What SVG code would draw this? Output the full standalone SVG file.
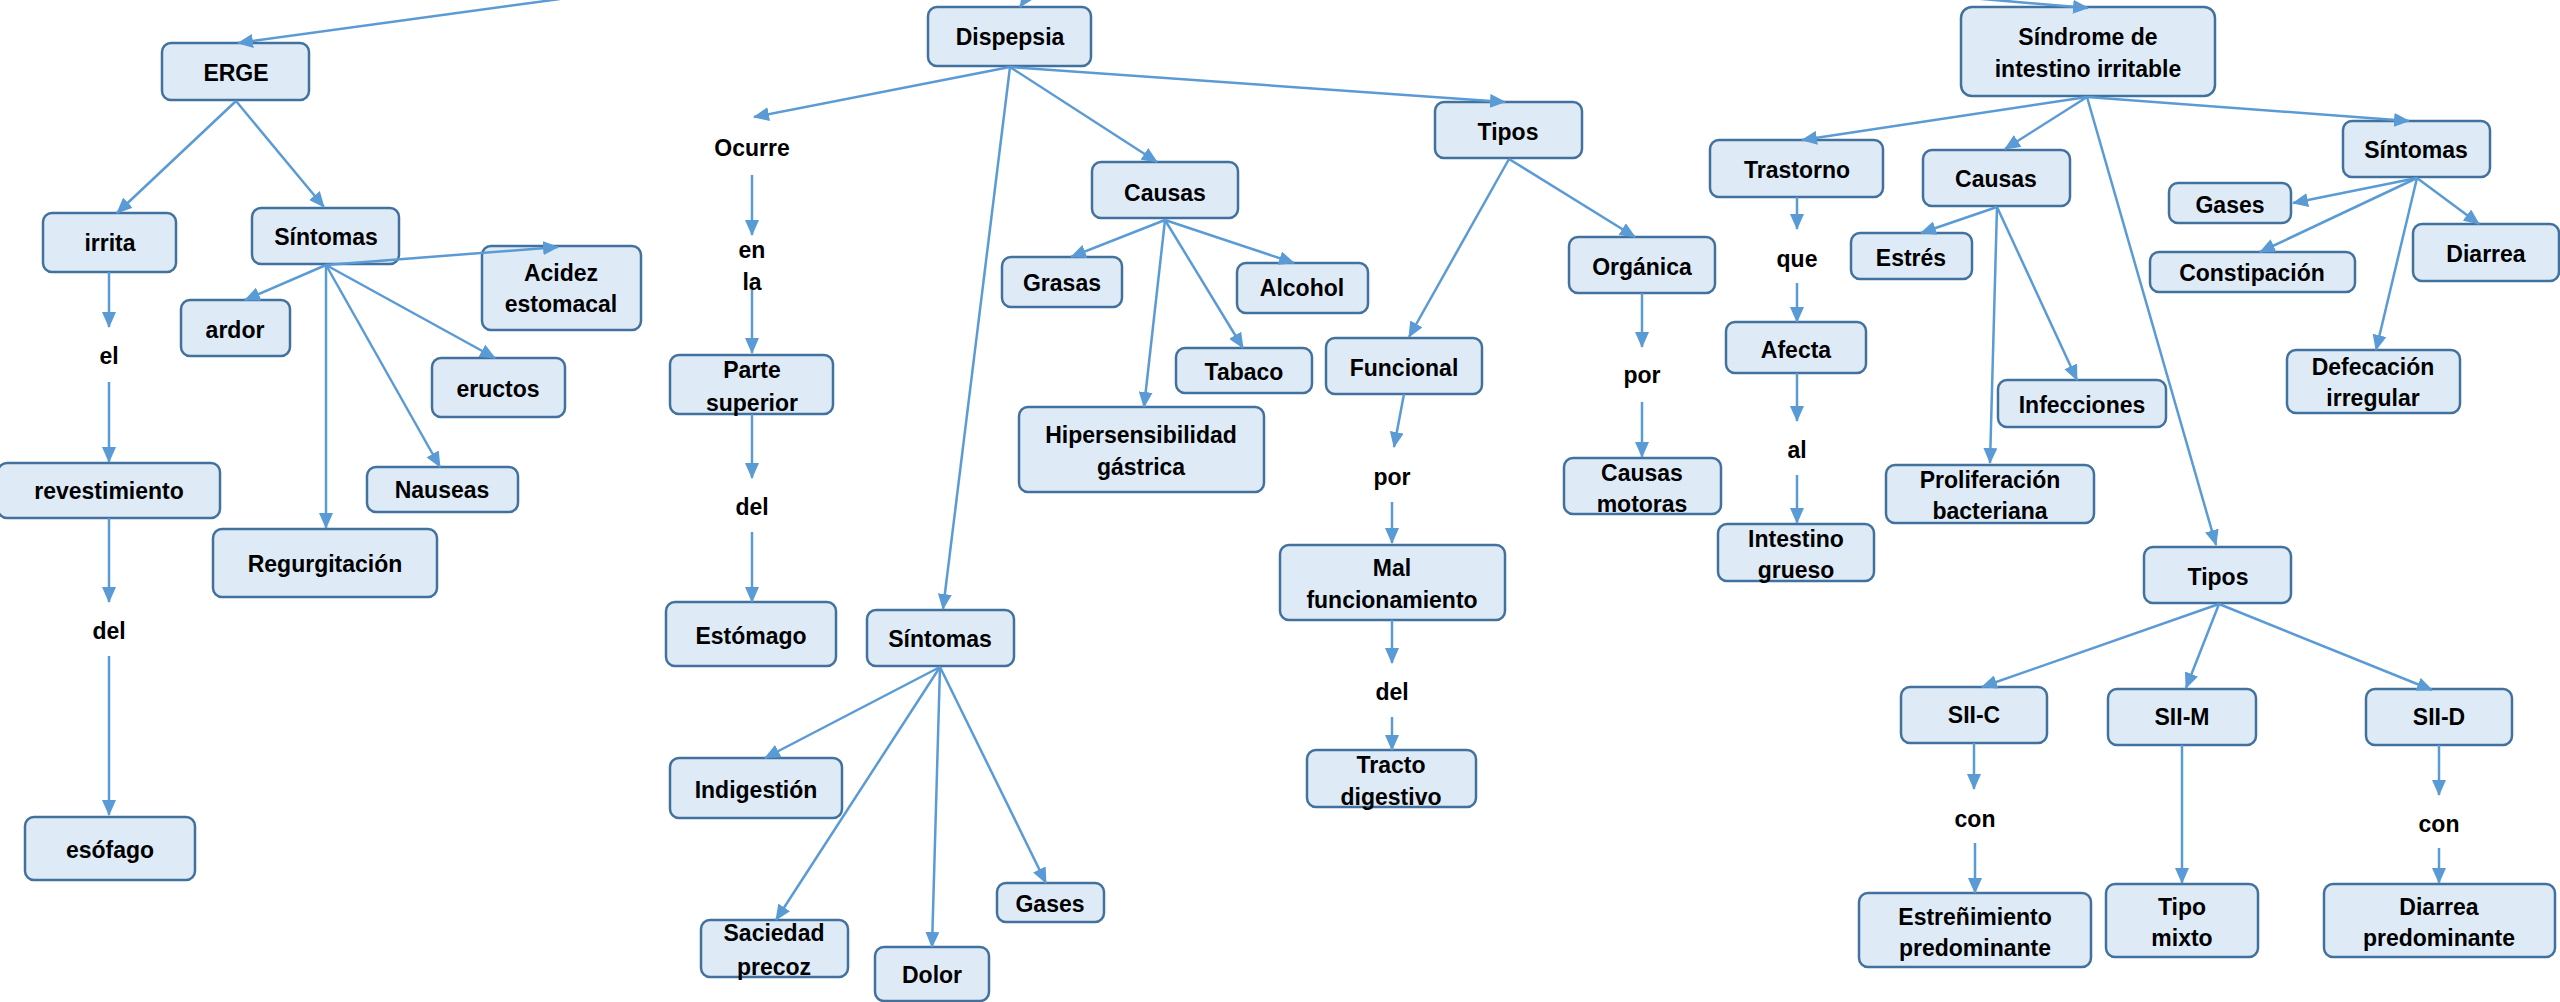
<svg xmlns="http://www.w3.org/2000/svg" width="2560" height="1002" viewBox="0 0 2560 1002">
<style>
.n rect{fill:#DEEBF7;stroke:#41719C;stroke-width:2.5}
text{font-family:"Liberation Sans",Arial,sans-serif;font-weight:bold;font-size:23px;fill:#000;text-anchor:middle}
.c line{stroke:#5B9BD5;stroke-width:2.5;marker-end:url(#ah)}
</style>
<defs>
<marker id="ah" markerUnits="userSpaceOnUse" markerWidth="16" markerHeight="14" viewBox="0 0 16 14" refX="15" refY="7" orient="auto">
<path d="M0,0 L16,7 L0,14 z" fill="#5B9BD5"/>
</marker>
</defs>
<rect width="2560" height="1002" fill="#fff"/>

<g id="erge" class="n"><rect x="162" y="43" width="147" height="57" rx="9"/><text x="236" y="81">ERGE</text></g>
<g id="irrita" class="n"><rect x="43" y="213" width="133" height="59" rx="9"/><text x="110" y="251">irrita</text></g>
<g id="sintomas1" class="n"><rect x="252" y="208" width="147" height="56" rx="9"/><text x="326" y="245">Síntomas</text></g>
<g id="acidez" class="n"><rect x="482" y="246" width="159" height="84" rx="9"/><text x="561" y="281">Acidez</text><text x="561" y="312">estomacal</text></g>
<g id="ardor" class="n"><rect x="181" y="300" width="109" height="56" rx="9"/><text x="235" y="338">ardor</text></g>
<g id="eructos" class="n"><rect x="432" y="358" width="133" height="59" rx="9"/><text x="498" y="397">eructos</text></g>
<g id="nauseas" class="n"><rect x="367" y="467" width="151" height="45" rx="9"/><text x="442" y="498">Nauseas</text></g>
<g id="revestimiento" class="n"><rect x="-2" y="463" width="222" height="55" rx="9"/><text x="109" y="499">revestimiento</text></g>
<g id="regurgitacion" class="n"><rect x="213" y="529" width="224" height="68" rx="9"/><text x="325" y="572">Regurgitación</text></g>
<g id="el"><text x="109" y="364">el</text></g>
<g id="del1"><text x="109" y="639">del</text></g>
<g id="esofago" class="n"><rect x="25" y="817" width="170" height="63" rx="9"/><text x="110" y="858">esófago</text></g>

<g id="dispepsia" class="n"><rect x="928" y="7" width="163" height="59" rx="9"/><text x="1010" y="45">Dispepsia</text></g>
<g id="ocurre"><text x="752" y="156">Ocurre</text></g>
<g id="en"><text x="752" y="258">en</text></g>
<g id="la"><text x="752" y="290">la</text></g>
<g id="parte" class="n"><rect x="670" y="355" width="163" height="59" rx="9"/><text x="752" y="378">Parte</text><text x="752" y="411">superior</text></g>
<g id="del2"><text x="752" y="515">del</text></g>
<g id="estomago" class="n"><rect x="666" y="602" width="170" height="64" rx="9"/><text x="751" y="644">Estómago</text></g>
<g id="sintomas2" class="n"><rect x="867" y="610" width="147" height="56" rx="9"/><text x="940" y="647">Síntomas</text></g>
<g id="indigestion" class="n"><rect x="670" y="758" width="172" height="60" rx="9"/><text x="756" y="798">Indigestión</text></g>
<g id="saciedad" class="n"><rect x="701" y="920" width="147" height="57" rx="9"/><text x="774" y="941">Saciedad</text><text x="774" y="975">precoz</text></g>
<g id="dolor" class="n"><rect x="875" y="947" width="114" height="54" rx="9"/><text x="932" y="983">Dolor</text></g>
<g id="gases1" class="n"><rect x="997" y="883" width="107" height="39" rx="9"/><text x="1050" y="912">Gases</text></g>
<g id="causas1" class="n"><rect x="1092" y="162" width="146" height="56" rx="9"/><text x="1165" y="201">Causas</text></g>
<g id="grasas" class="n"><rect x="1002" y="257" width="120" height="50" rx="9"/><text x="1062" y="291">Grasas</text></g>
<g id="alcohol" class="n"><rect x="1237" y="263" width="131" height="50" rx="9"/><text x="1302" y="296">Alcohol</text></g>
<g id="tabaco" class="n"><rect x="1176" y="348" width="136" height="45" rx="9"/><text x="1244" y="380">Tabaco</text></g>
<g id="hipersensibilidad" class="n"><rect x="1019" y="407" width="245" height="85" rx="9"/><text x="1141" y="443">Hipersensibilidad</text><text x="1141" y="475">gástrica</text></g>
<g id="tipos1" class="n"><rect x="1435" y="102" width="147" height="56" rx="9"/><text x="1508" y="140">Tipos</text></g>
<g id="funcional" class="n"><rect x="1326" y="338" width="156" height="56" rx="9"/><text x="1404" y="376">Funcional</text></g>
<g id="organica" class="n"><rect x="1569" y="237" width="146" height="56" rx="9"/><text x="1642" y="275">Orgánica</text></g>
<g id="por1"><text x="1392" y="485">por</text></g>
<g id="malfunc" class="n"><rect x="1280" y="545" width="225" height="75" rx="9"/><text x="1392" y="576">Mal</text><text x="1392" y="608">funcionamiento</text></g>
<g id="del3"><text x="1392" y="700">del</text></g>
<g id="tracto" class="n"><rect x="1307" y="750" width="169" height="57" rx="9"/><text x="1391" y="773">Tracto</text><text x="1391" y="805">digestivo</text></g>
<g id="por2"><text x="1642" y="383">por</text></g>
<g id="causasmot" class="n"><rect x="1564" y="458" width="157" height="56" rx="9"/><text x="1642" y="481">Causas</text><text x="1642" y="512">motoras</text></g>

<g id="trastorno" class="n"><rect x="1710" y="140" width="173" height="57" rx="9"/><text x="1797" y="178">Trastorno</text></g>
<g id="que"><text x="1797" y="267">que</text></g>
<g id="afecta" class="n"><rect x="1726" y="322" width="140" height="51" rx="9"/><text x="1796" y="358">Afecta</text></g>
<g id="al"><text x="1797" y="458">al</text></g>
<g id="intestino" class="n"><rect x="1718" y="524" width="156" height="57" rx="9"/><text x="1796" y="547">Intestino</text><text x="1796" y="578">grueso</text></g>
<g id="sii" class="n"><rect x="1961" y="7" width="254" height="89" rx="11"/><text x="2088" y="45">Síndrome de</text><text x="2088" y="77">intestino irritable</text></g>
<g id="causas2" class="n"><rect x="1923" y="150" width="147" height="56" rx="9"/><text x="1996" y="187">Causas</text></g>
<g id="estres" class="n"><rect x="1851" y="233" width="121" height="46" rx="9"/><text x="1911" y="266">Estrés</text></g>
<g id="infecciones" class="n"><rect x="1998" y="380" width="168" height="47" rx="9"/><text x="2082" y="413">Infecciones</text></g>
<g id="proliferacion" class="n"><rect x="1886" y="465" width="208" height="58" rx="9"/><text x="1990" y="488">Proliferación</text><text x="1990" y="519">bacteriana</text></g>
<g id="sintomas3" class="n"><rect x="2343" y="121" width="147" height="56" rx="9"/><text x="2416" y="158">Síntomas</text></g>
<g id="gases2" class="n"><rect x="2169" y="183" width="122" height="40" rx="9"/><text x="2230" y="213">Gases</text></g>
<g id="constipacion" class="n"><rect x="2150" y="252" width="205" height="40" rx="9"/><text x="2252" y="281">Constipación</text></g>
<g id="diarrea" class="n"><rect x="2413" y="224" width="146" height="57" rx="9"/><text x="2486" y="262">Diarrea</text></g>
<g id="defecacion" class="n"><rect x="2287" y="350" width="173" height="63" rx="9"/><text x="2373" y="375">Defecación</text><text x="2373" y="406">irregular</text></g>
<g id="tipos2" class="n"><rect x="2144" y="547" width="147" height="56" rx="9"/><text x="2218" y="585">Tipos</text></g>
<g id="siic" class="n"><rect x="1901" y="687" width="146" height="56" rx="9"/><text x="1974" y="723">SII-C</text></g>
<g id="siim" class="n"><rect x="2108" y="689" width="148" height="56" rx="9"/><text x="2182" y="725">SII-M</text></g>
<g id="siid" class="n"><rect x="2366" y="689" width="146" height="56" rx="9"/><text x="2439" y="725">SII-D</text></g>
<g id="con1"><text x="1975" y="827">con</text></g>
<g id="con2"><text x="2439" y="832">con</text></g>
<g id="estrenimiento" class="n"><rect x="1859" y="893" width="232" height="74" rx="9"/><text x="1975" y="925">Estreñimiento</text><text x="1975" y="956">predominante</text></g>
<g id="tipomixto" class="n"><rect x="2106" y="884" width="152" height="73" rx="9"/><text x="2182" y="915">Tipo</text><text x="2182" y="946">mixto</text></g>
<g id="diarreapred" class="n"><rect x="2324" y="884" width="231" height="73" rx="9"/><text x="2439" y="915">Diarrea</text><text x="2439" y="946">predominante</text></g>

<g id="connectors" class="c">
<line x1="560" y1="-1" x2="238" y2="43"/>
<line x1="236" y1="101" x2="117" y2="213"/>
<line x1="236" y1="101" x2="324" y2="207"/>
<line x1="326" y1="265" x2="558" y2="247"/>
<line x1="326" y1="265" x2="245" y2="300"/>
<line x1="326" y1="265" x2="495" y2="358"/>
<line x1="326" y1="265" x2="440" y2="467"/>
<line x1="326" y1="265" x2="326" y2="528"/>
<line x1="109" y1="272" x2="109" y2="327"/>
<line x1="109" y1="382" x2="109" y2="462"/>
<line x1="109" y1="518" x2="109" y2="602"/>
<line x1="109" y1="656" x2="109" y2="815"/>
<line x1="1045" y1="-30" x2="1020" y2="7"/>
<line x1="1010" y1="67" x2="754" y2="117"/>
<line x1="1010" y1="67" x2="943" y2="609"/>
<line x1="1010" y1="67" x2="1157" y2="162"/>
<line x1="1010" y1="67" x2="1505" y2="102"/>
<line x1="752" y1="175" x2="752" y2="235"/>
<line x1="752" y1="290" x2="752" y2="353"/>
<line x1="752" y1="414" x2="752" y2="478"/>
<line x1="752" y1="532" x2="752" y2="602"/>
<line x1="940" y1="667" x2="765" y2="758"/>
<line x1="940" y1="667" x2="776" y2="920"/>
<line x1="940" y1="667" x2="932" y2="947"/>
<line x1="940" y1="667" x2="1046" y2="883"/>
<line x1="1165" y1="220" x2="1071" y2="257"/>
<line x1="1165" y1="220" x2="1294" y2="263"/>
<line x1="1165" y1="220" x2="1243" y2="348"/>
<line x1="1165" y1="220" x2="1144" y2="407"/>
<line x1="1509" y1="159" x2="1409" y2="337"/>
<line x1="1509" y1="159" x2="1635" y2="237"/>
<line x1="1404" y1="394" x2="1394" y2="447"/>
<line x1="1392" y1="502" x2="1392" y2="543"/>
<line x1="1392" y1="620" x2="1392" y2="663"/>
<line x1="1392" y1="717" x2="1392" y2="750"/>
<line x1="1642" y1="293" x2="1642" y2="347"/>
<line x1="1642" y1="402" x2="1642" y2="457"/>
<line x1="1900" y1="-8" x2="2088" y2="8"/>
<line x1="2087" y1="97" x2="1802" y2="140"/>
<line x1="2087" y1="97" x2="2005" y2="149"/>
<line x1="2087" y1="97" x2="2409" y2="121"/>
<line x1="2087" y1="97" x2="2216" y2="545"/>
<line x1="1797" y1="197" x2="1797" y2="229"/>
<line x1="1797" y1="283" x2="1797" y2="322"/>
<line x1="1797" y1="373" x2="1797" y2="421"/>
<line x1="1797" y1="475" x2="1797" y2="523"/>
<line x1="1997" y1="207" x2="1921" y2="233"/>
<line x1="1997" y1="207" x2="2077" y2="380"/>
<line x1="1997" y1="207" x2="1990" y2="463"/>
<line x1="2417" y1="178" x2="2293" y2="203"/>
<line x1="2417" y1="178" x2="2260" y2="252"/>
<line x1="2417" y1="178" x2="2479" y2="224"/>
<line x1="2417" y1="178" x2="2376" y2="350"/>
<line x1="2219" y1="604" x2="1982" y2="687"/>
<line x1="2219" y1="604" x2="2186" y2="688"/>
<line x1="2219" y1="604" x2="2432" y2="690"/>
<line x1="1974" y1="743" x2="1974" y2="789"/>
<line x1="1975" y1="843" x2="1975" y2="893"/>
<line x1="2182" y1="745" x2="2182" y2="883"/>
<line x1="2439" y1="745" x2="2439" y2="795"/>
<line x1="2439" y1="848" x2="2439" y2="883"/>
</g>
</svg>
